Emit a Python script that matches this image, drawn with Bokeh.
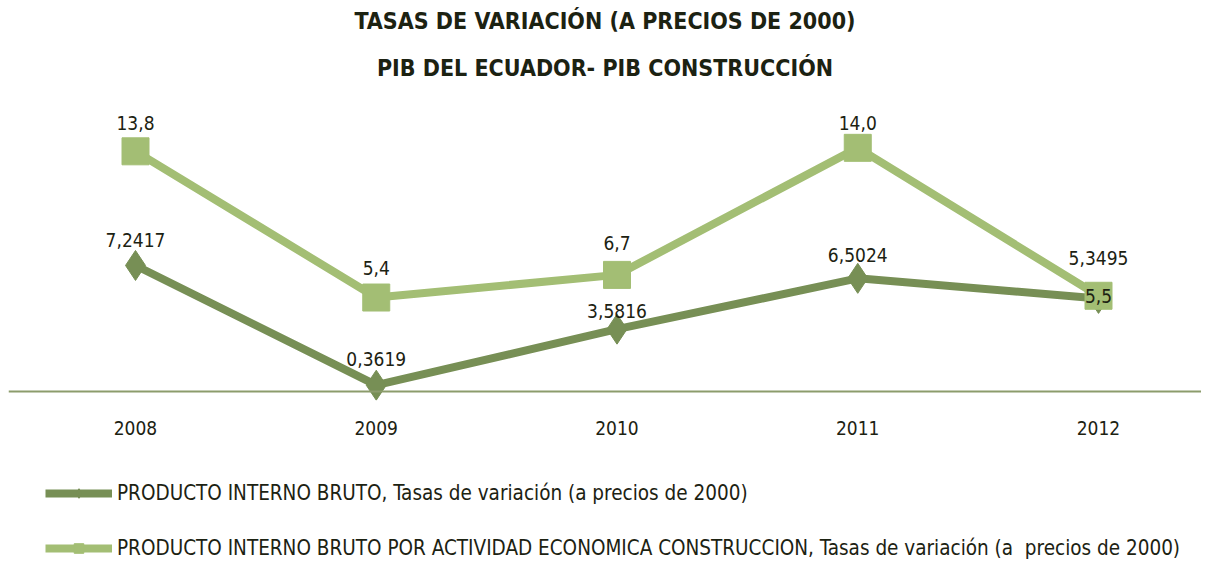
from bokeh.plotting import figure
from bokeh.layouts import column
from bokeh.models import (ColumnDataSource, Range1d, Span, FixedTicker, Legend,
                          LegendItem, Title)
from bokeh.core.properties import value
from bokeh.embed import file_html
from bokeh.resources import INLINE

# ---------------- data ----------------
years = ["2008", "2009", "2010", "2011", "2012"]
pib = [7.2417, 0.3619, 3.5816, 6.5024, 5.3495]
pib_labels = ["7,2417", "0,3619", "3,5816", "6,5024", "5,3495"]
construccion = [13.8, 5.4, 6.7, 14.0, 5.5]
construccion_labels = ["13,8", "5,4", "6,7", "14,0", "5,5"]
series_names = [
    "PRODUCTO INTERNO BRUTO, Tasas de variación (a precios de 2000)",
    "PRODUCTO INTERNO BRUTO POR ACTIVIDAD ECONOMICA CONSTRUCCION, Tasas de variación (a  precios de 2000)",
]
title_lines = ["TASAS DE VARIACIÓN (A PRECIOS DE 2000)", "PIB DEL ECUADOR- PIB CONSTRUCCIÓN"]

# ---------------- styles ----------------
FONT = "DejaVu Sans Condensed"
DARK = "#778f55"
LIGHT = "#a3be74"
AXIS = "#8c9c6c"
TEXT = "#1c2212"
pib_label_offsets = [-25, -26, -18, -23, -40]
con_label_offsets = [-28, -30, -32, -25, 0]

x = list(range(len(years)))
src_pib = ColumnDataSource(dict(x=x, y=pib, lab=pib_labels, off=pib_label_offsets))
src_con = ColumnDataSource(dict(x=x, y=construccion, lab=construccion_labels, off=con_label_offsets))

spacing = 240.75
x0 = -127 / spacing
p = figure(frame_width=1193, frame_height=300, output_backend="svg", toolbar_location=None,
           min_border_left=8, min_border_right=0, min_border_top=100, min_border_bottom=60,
           x_range=Range1d(x0, x0 + 1193 / spacing),
           y_range=Range1d(-0.517, 16.72))
p.outline_line_color = None
p.grid.visible = False
p.yaxis.visible = False
p.background_fill_color = "white"
p.border_fill_color = "white"

# titles
p.title.text = title_lines[0]
p.title.align = "center"
p.title.text_font = FONT
p.title.text_font_size = "23px"
p.title.text_font_style = "bold"
p.title.text_color = TEXT
p.title.standoff = 0
t2 = Title(text=title_lines[1], align="center", text_font=FONT, text_font_size="23px",
           text_font_style="bold", text_color=TEXT, standoff=39)
p.add_layout(t2, "above")

# x axis
p.xaxis.ticker = FixedTicker(ticks=x)
p.xaxis.major_label_overrides = {i: y for i, y in zip(x, years)}
p.xaxis.axis_line_color = None
p.xaxis.major_tick_line_color = None
p.xaxis.minor_tick_line_color = None
p.xaxis.major_tick_out = 0
p.xaxis.major_label_standoff = 20
p.xaxis.major_label_text_font = FONT
p.xaxis.major_label_text_font_size = "19px"
p.xaxis.major_label_text_color = TEXT

p.add_layout(Span(location=0, dimension="width", line_color=AXIS, line_width=2))

# series
line_kw1 = dict(line_color=DARK, line_width=8)
mark_kw1 = dict(marker="diamond", size=30, fill_color=DARK, line_color=DARK)
line_kw2 = dict(line_color=LIGHT, line_width=8)
mark_kw2 = dict(marker="square", size=27, fill_color=LIGHT, line_color=LIGHT)

p.line("x", "y", source=src_pib, **line_kw1)
p.scatter("x", "y", source=src_pib, **mark_kw1)
p.line("x", "y", source=src_con, **line_kw2)
p.scatter("x", "y", source=src_con, **mark_kw2)

for src in (src_pib, src_con):
    p.text("x", "y", text="lab", source=src, y_offset="off", text_align="center",
           text_baseline="middle", text_font=value(FONT), text_font_size="19px", text_color=TEXT)

# legend panel (separate figure below the chart, holding only the legend);
# its ranges are set away from the data so only the legend is visible
lg = figure(width=1201, height=100, output_backend="svg", toolbar_location=None,
            min_border_left=0, min_border_right=0, min_border_top=0, min_border_bottom=0,
            x_range=Range1d(100, 101), y_range=Range1d(100, 101))
lg.outline_line_color = None
lg.grid.visible = False
lg.axis.visible = False
r1 = lg.line("x", "y", source=src_pib, **line_kw1)
s1 = lg.scatter("x", "y", source=src_pib, **mark_kw1)
r2 = lg.line("x", "y", source=src_con, **line_kw2)
s2 = lg.scatter("x", "y", source=src_con, **mark_kw2)

legend = Legend(items=[LegendItem(label=series_names[0], renderers=[r1, s1]),
                       LegendItem(label=series_names[1], renderers=[r2, s2])],
                location=(37, 0), orientation="vertical",
                glyph_width=67, glyph_height=24, label_height=24, spacing=31,
                padding=0, margin=0, label_standoff=5,
                label_text_font=FONT, label_text_font_size="20.5px", label_text_color=TEXT,
                background_fill_alpha=0, border_line_color=None)
lg.add_layout(legend, "center")

open("out.html", "w").write(file_html(column(p, lg), INLINE))
